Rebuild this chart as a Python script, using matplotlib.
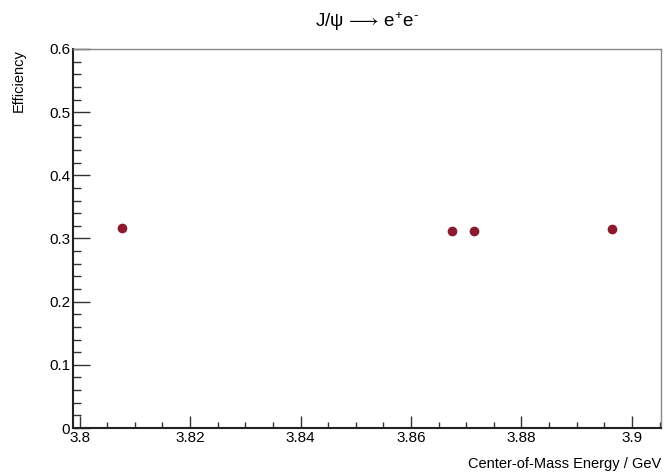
import matplotlib
matplotlib.use("Agg")
import matplotlib.pyplot as plt
from matplotlib.ticker import MultipleLocator, FormatStrFormatter

# data
energy = [3.8076, 3.8674, 3.8714, 3.8964]
efficiency = [0.3172, 0.3125, 0.3117, 0.3157]

x_range = (3.79882, 3.90525)
y_range = (0.0, 0.6)

plt.rcParams['font.family'] = ['Liberation Sans', 'DejaVu Sans']
plt.rcParams['mathtext.fontset'] = 'custom'
plt.rcParams['mathtext.rm'] = 'Liberation Sans'
plt.rcParams['mathtext.it'] = 'Liberation Sans'
plt.rcParams['mathtext.fallback'] = 'stixsans'

fig = plt.figure(figsize=(6.65, 4.74), dpi=100)
ax = fig.add_axes([73 / 665, 46 / 474, 588 / 665, 379 / 474])

ax.plot(energy, efficiency, 'o', color='#8b1a2e', markersize=7, markeredgewidth=0)

ax.set_xlim(*x_range)
ax.set_ylim(*y_range)

ax.xaxis.set_major_locator(MultipleLocator(0.02))
ax.xaxis.set_minor_locator(MultipleLocator(0.005))
ax.yaxis.set_major_locator(MultipleLocator(0.1))
ax.yaxis.set_minor_locator(MultipleLocator(0.02))
ax.xaxis.set_major_formatter(FormatStrFormatter('%g'))
ax.yaxis.set_major_formatter(FormatStrFormatter('%g'))

ax.tick_params(axis='both', which='both', direction='in', top=False, right=False,
               labelsize=11, width=1, color='#333333')
ax.tick_params(axis='x', which='major', length=9, pad=2)
ax.tick_params(axis='x', which='minor', length=4.5)
ax.tick_params(axis='y', which='major', length=12, pad=2)
ax.tick_params(axis='y', which='minor', length=6)

for side in ['left', 'bottom']:
    ax.spines[side].set_linewidth(1.5)
    ax.spines[side].set_color('#222222')
for side in ['top', 'right']:
    ax.spines[side].set_linewidth(1)
    ax.spines[side].set_color('#888888')

ax.set_title(r'J/$\psi$ $\!\longrightarrow\!$ e$^{+}$e$^{\text{-}}$', fontsize=13.5, pad=16)
ax.set_xlabel('Center-of-Mass Energy / GeV', fontsize=10.5, loc='right', labelpad=9)
ax.set_ylabel('Efficiency', fontsize=10.5, loc='top', labelpad=17)

fig.savefig('out.png', dpi=100)
